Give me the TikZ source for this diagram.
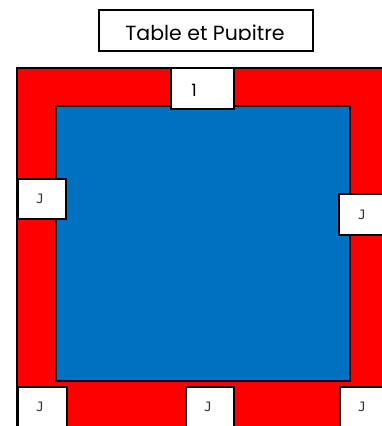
\documentclass[tikz,border=0pt]{standalone}
\usepackage{fontspec}
\setmainfont{Poppins}
\newfontfamily\monof{DejaVu Sans Mono}
\definecolor{tblue}{HTML}{0070C0}
\definecolor{tred}{HTML}{FF0000}
\begin{document}
\begin{tikzpicture}[x=1pt,y=-1pt,
  frame/.style={draw=black,line width=1.6pt},
  jbox/.style={draw=black,line width=1.6pt,fill=white,inner sep=0pt,anchor=north west},
  jlabel/.style={font=\monof\fontsize{13}{13}\selectfont,text=black!80}]
\useasboundingbox (0,0) rectangle (382,426);
% red frame
\path[frame,fill=tred] (17,68) rectangle (392,436);
\path[frame,fill=tblue] (56,106) rectangle (350,381);
% title
\node[frame,fill=white,minimum width=214pt,minimum height=41pt,anchor=north west,inner sep=0pt] (title) at (98,9) {};
\begin{scope}
\clip (98,9) rectangle (312,39);
\node[font=\fontsize{20.5}{20.5}\selectfont,anchor=base,inner sep=0pt] (titletext) at (205,40.5) {Table et Pupitre};
\end{scope}
% top box 1
\node[jbox,minimum width=63pt,minimum height=41pt] (b1) at (170,67) {};
\node[font=\fontsize{17}{17}\selectfont] (l1) at (194,90) {1};
% left J
\node[jbox,minimum width=48pt,minimum height=40pt] (bl) at (17,178) {};
\node[jlabel] (ll) at (40,199) {J};
% right J
\node[jbox,minimum width=50pt,minimum height=41pt] (br) at (338,193) {};
\node[jlabel] (lr) at (362,215) {J};
% bottom J boxes
\node[jbox,minimum width=49pt,minimum height=45pt] (bb1) at (17,386) {};
\node[jlabel] (lb1) at (40,407) {J};
\node[jbox,minimum width=48pt,minimum height=45pt] (bb2) at (185,386) {};
\node[jlabel] (lb2) at (208,407) {J};
\node[jbox,minimum width=48pt,minimum height=45pt] (bb3) at (339,386) {};
\node[jlabel] (lb3) at (362,407) {J};
\end{tikzpicture}
\end{document}
